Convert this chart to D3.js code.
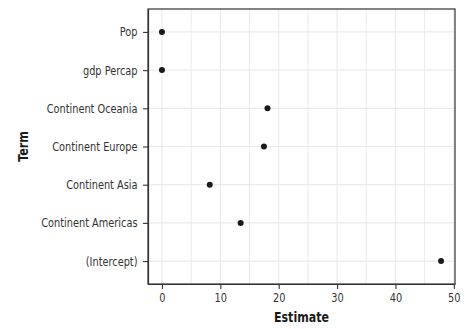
<!DOCTYPE html>
<html><head><meta charset="utf-8">
<script src="https://cdn.jsdelivr.net/npm/d3@7"></script>
<style>body{margin:0;background:#fff}text{font-family:"DejaVu Sans Condensed","DejaVu Sans",sans-serif;font-stretch:condensed}</style>
</head><body><svg id="c" width="470" height="329"></svg>
<script>
const terms = ["(Intercept)","Continent Americas","Continent Asia","Continent Europe","Continent Oceania","gdp Percap","Pop"];
const estimates = [47.81, 13.48, 8.19, 17.47, 18.08, 0.00045, 0.0000000066];
const xTicks = [0,10,20,30,40,50];
const xMinor = [5,15,25,35,45];

const FONT = '"DejaVu Sans Condensed","DejaVu Sans",sans-serif';
const SX = 0.87;
const svg = d3.select("#c");
const m = {l:148, r:455, t:9, b:284};
const x = d3.scaleLinear().domain([-2.39, 50.2]).range([m.l, m.r]);
const y = d3.scalePoint().domain(terms).range([m.b, m.t]).padding(0.6);

const g = svg.append("g");
g.selectAll(".vmin").data(xMinor).join("line").attr("x1",d=>x(d)).attr("x2",d=>x(d)).attr("y1",m.t).attr("y2",m.b).attr("stroke","#ebebeb").attr("stroke-width",1);
g.selectAll(".vmaj").data(xTicks).join("line").attr("x1",d=>x(d)).attr("x2",d=>x(d)).attr("y1",m.t).attr("y2",m.b).attr("stroke","#ebebeb").attr("stroke-width",1.2);
g.selectAll(".h").data(terms).join("line").attr("x1",m.l).attr("x2",m.r).attr("y1",d=>y(d)).attr("y2",d=>y(d)).attr("stroke","#ebebeb").attr("stroke-width",1.2);
g.append("rect").attr("x",m.l).attr("y",m.t).attr("width",m.r-m.l).attr("height",m.b-m.t).attr("fill","none").attr("stroke","#333").attr("stroke-width",1.2);

const xa = svg.append("g").attr("transform",`translate(0,${m.b})`).call(d3.axisBottom(x).tickValues(xTicks).tickSize(5).tickSizeOuter(0).tickPadding(4));
const ya = svg.append("g").attr("transform",`translate(${m.l},0)`).call(d3.axisLeft(y).tickSize(5).tickSizeOuter(0).tickPadding(4));
[xa,ya].forEach(a=>{a.select(".domain").attr("stroke","#333").attr("stroke-width",1.2);a.selectAll(".tick line").attr("stroke","#333").attr("stroke-width",1.1);a.selectAll("text").attr("fill","#333").style("font-size","12.5px").style("font-family",FONT);});
ya.selectAll(".tick text").attr("x",-10.5/SX).attr("transform",`scale(${SX},1)`);
xa.selectAll(".tick text").attr("transform",`scale(${SX},1)`);

svg.selectAll(".pt").data(terms.map((t,i)=>({t,v:estimates[i]}))).join("circle")
  .attr("cx",d=>x(d.v)).attr("cy",d=>y(d.t)).attr("r",3).attr("fill","#1a1a1a");

svg.append("text").attr("transform",`translate(${(m.l+m.r)/2},322) scale(0.85,1)`).attr("text-anchor","middle").style("font-size","14.5px").style("font-weight","bold").attr("fill","#1a1a1a").text("Estimate");
svg.append("text").attr("transform",`translate(28,${(m.t+m.b)/2}) rotate(-90) scale(0.85,1)`).attr("text-anchor","middle").style("font-size","14.5px").style("font-weight","bold").attr("fill","#1a1a1a").text("Term");
</script></body></html>
